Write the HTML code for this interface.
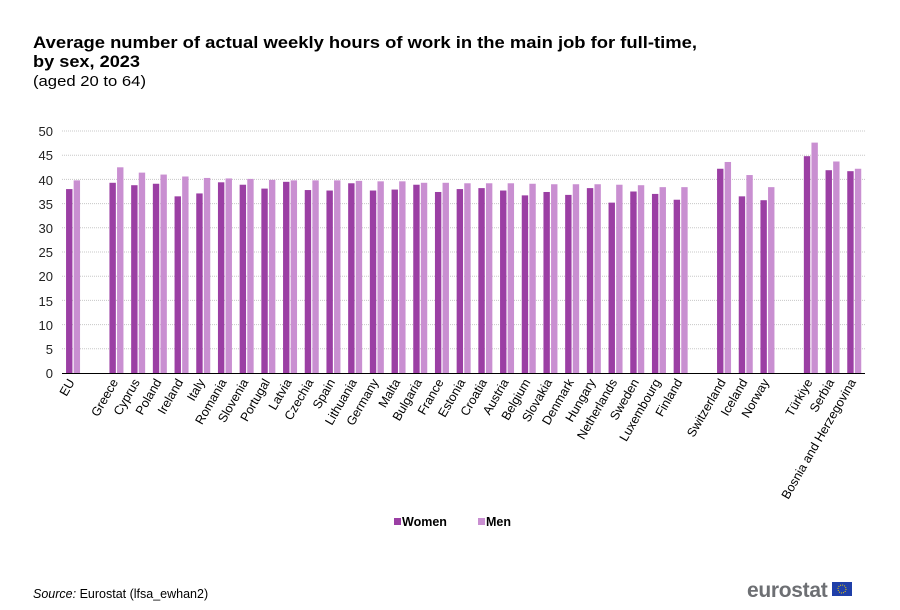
<!DOCTYPE html>
<html><head><meta charset="utf-8"><style>
body{margin:0;background:#fff;}
svg{display:block;font-family:"Liberation Sans",Arial,sans-serif;}
</style></head><body>
<svg id="s" width="900" height="610" viewBox="0 0 900 610">
<text x="33" y="48" font-size="17" font-weight="bold" fill="#000" textLength="664" lengthAdjust="spacingAndGlyphs">Average number of actual weekly hours of work in the main job for full-time,</text>
<text x="33" y="67" font-size="17" font-weight="bold" fill="#000" textLength="107" lengthAdjust="spacingAndGlyphs">by sex, 2023</text>
<text x="33" y="86" font-size="14.5" fill="#000" textLength="113" lengthAdjust="spacingAndGlyphs">(aged 20 to 64)</text>
<g id="grid" stroke="#c8c8c8" stroke-dasharray="1,1"></g>
<g font-size="13" fill="#222" text-anchor="end">
<text x="53" y="378">0</text><text x="53" y="354">5</text><text x="53" y="330">10</text><text x="53" y="306">15</text><text x="53" y="281">20</text><text x="53" y="257">25</text><text x="53" y="233">30</text><text x="53" y="209">35</text><text x="53" y="185">40</text><text x="53" y="160">45</text><text x="53" y="136">50</text>
</g>
<g id="bars"></g>
<line x1="62" y1="373.5" x2="865" y2="373.5" stroke="#000" stroke-width="1"/>
<g font-size="12.5" fill="#000" text-anchor="end">
<text transform="translate(75,382) rotate(-60)">EU</text>
<text transform="translate(118.5,382) rotate(-60)">Greece</text>
<text transform="translate(140.2,382) rotate(-60)">Cyprus</text>
<text transform="translate(161.9,382) rotate(-60)">Poland</text>
<text transform="translate(183.6,382) rotate(-60)">Ireland</text>
<text transform="translate(205.3,382) rotate(-60)">Italy</text>
<text transform="translate(227,382) rotate(-60)">Romania</text>
<text transform="translate(248.7,382) rotate(-60)">Slovenia</text>
<text transform="translate(270.4,382) rotate(-60)">Portugal</text>
<text transform="translate(292.1,382) rotate(-60)">Latvia</text>
<text transform="translate(313.8,382) rotate(-60)">Czechia</text>
<text transform="translate(335.5,382) rotate(-60)">Spain</text>
<text transform="translate(357.2,382) rotate(-60)">Lithuania</text>
<text transform="translate(378.9,382) rotate(-60)">Germany</text>
<text transform="translate(400.6,382) rotate(-60)">Malta</text>
<text transform="translate(422.3,382) rotate(-60)">Bulgaria</text>
<text transform="translate(444,382) rotate(-60)">France</text>
<text transform="translate(465.7,382) rotate(-60)">Estonia</text>
<text transform="translate(487.4,382) rotate(-60)">Croatia</text>
<text transform="translate(509.1,382) rotate(-60)">Austria</text>
<text transform="translate(530.8,382) rotate(-60)">Belgium</text>
<text transform="translate(552.5,382) rotate(-60)">Slovakia</text>
<text transform="translate(574.2,382) rotate(-60)">Denmark</text>
<text transform="translate(595.9,382) rotate(-60)">Hungary</text>
<text transform="translate(617.6,382) rotate(-60)">Netherlands</text>
<text transform="translate(639.3,382) rotate(-60)">Sweden</text>
<text transform="translate(661,382) rotate(-60)">Luxembourg</text>
<text transform="translate(682.7,382) rotate(-60)">Finland</text>
<text transform="translate(726.1,382) rotate(-60)">Switzerland</text>
<text transform="translate(747.8,382) rotate(-60)">Iceland</text>
<text transform="translate(769.5,382) rotate(-60)">Norway</text>
<text transform="translate(812.9,382) rotate(-60)">Türkiye</text>
<text transform="translate(834.6,382) rotate(-60)">Serbia</text>
<text transform="translate(856.3,382) rotate(-60)">Bosnia and Herzegovina</text>
</g>
<rect x="394" y="518" width="7" height="7" fill="#9b3fa4"/>
<text x="402" y="526" font-size="12.5" font-weight="bold">Women</text>
<rect x="478" y="518" width="7" height="7" fill="#c98fd1"/>
<text x="486" y="526" font-size="12.5" font-weight="bold">Men</text>
<text x="33" y="598" font-size="12.5"><tspan font-style="italic">Source:</tspan> Eurostat (lfsa_ewhan2)</text>
<text x="747" y="597" font-size="21" fill="#6d6f73" font-weight="bold" letter-spacing="-0.3">eurostat</text>
<rect x="832" y="582" width="20" height="14" fill="#1f3fa8"/>
<circle cx="842" cy="589" r="4" fill="none" stroke="#f2d300" stroke-width="1" stroke-dasharray="1,1.1"/>
</svg>
<script>
var ns="http://www.w3.org/2000/svg";
var g=document.getElementById("grid");
for(var v=5;v<=50;v+=5){var y=373-v*4.84;var l=document.createElementNS(ns,"line");l.setAttribute("x1",62);l.setAttribute("x2",865);l.setAttribute("y1",y);l.setAttribute("y2",y);g.appendChild(l);}
var d=[[0,38,39.8],[2,39.3,42.5],[3,38.8,41.4],[4,39.1,41],[5,36.5,40.6],[6,37.1,40.3],[7,39.4,40.2],[8,38.9,40.1],[9,38.1,39.9],[10,39.5,39.8],[11,37.8,39.8],[12,37.7,39.8],[13,39.2,39.7],[14,37.7,39.6],[15,37.9,39.6],[16,38.9,39.3],[17,37.4,39.3],[18,38,39.2],[19,38.2,39.2],[20,37.7,39.2],[21,36.7,39.1],[22,37.4,39],[23,36.8,39],[24,38.2,39],[25,35.2,38.9],[26,37.5,38.8],[27,37,38.4],[28,35.8,38.4],[30,42.2,43.6],[31,36.5,40.9],[32,35.7,38.4],[34,44.8,47.6],[35,41.9,43.7],[36,41.7,42.2]];
var b=document.getElementById("bars");
d.forEach(function(r){var c=73.05+21.7*r[0];
[[c-7,r[1],"#9b3fa4"],[c+0.6,r[2],"#c98fd1"]].forEach(function(q){var e=document.createElementNS(ns,"rect");var h=q[1]*4.84;e.setAttribute("x",q[0]);e.setAttribute("width",6.4);e.setAttribute("y",373-h);e.setAttribute("height",h);e.setAttribute("fill",q[2]);b.appendChild(e);});});
</script>
</body></html>
